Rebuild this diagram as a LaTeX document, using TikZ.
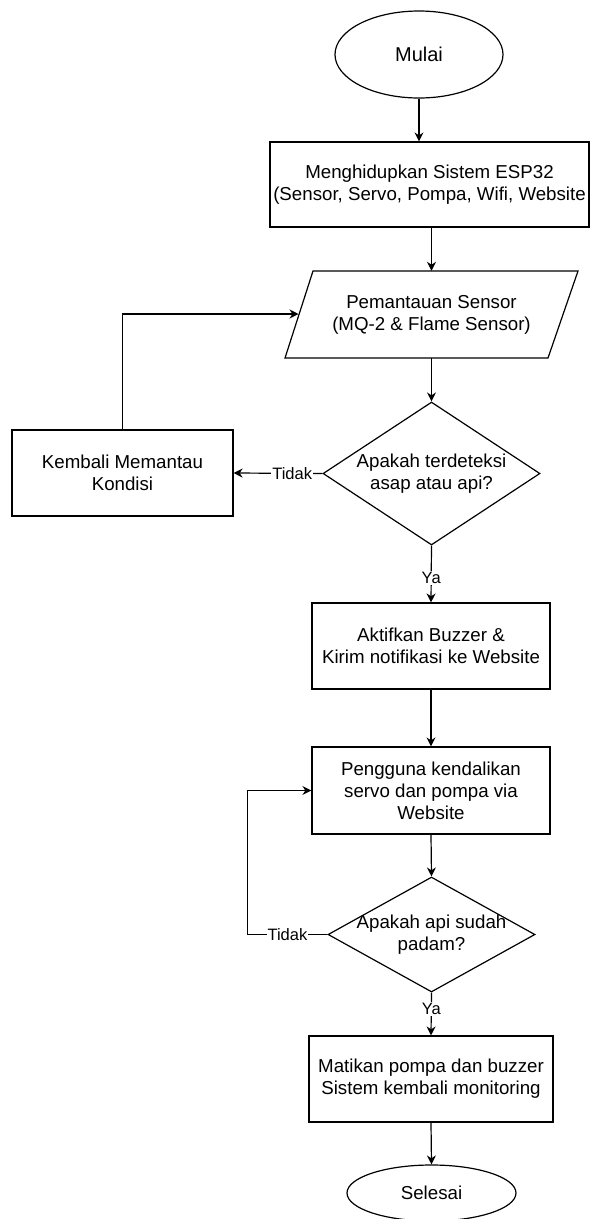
\documentclass[tikz,border=0pt]{standalone}
\usepackage{fontspec}
\setmainfont{Liberation Sans}
\usetikzlibrary{shapes.geometric,arrows.meta}
\tikzset{
  ln/.style={draw=black, line width=1.2pt},
  arr/.style={ln, -{Stealth[length=9pt,width=9pt]}},
  txt/.style={font=\fontsize{18.7}{22}\selectfont, align=center, text=black},
  procbox/.style={ln, txt, rectangle, inner sep=0pt},
  term/.style={ln, txt, ellipse, inner sep=0pt},
  decide/.style={ln, txt, diamond, inner ysep=0pt},
  lbl/.style={font=\fontsize{16.5}{18}\selectfont, fill=white, inner sep=1pt, text=black}
}
\begin{document}
\begin{tikzpicture}[x=1pt,y=-1pt]
\useasboundingbox (0,0) rectangle (591,1219);
\clip (0,0) rectangle (591,1219);

\node[term, minimum width=168, minimum height=87, font=\fontsize{20}{24}\selectfont] (mulai) at (419,54.5) {Mulai};
\node[procbox, minimum width=319, minimum height=85] (esp) at (429.5,184.5) {Menghidupkan Sistem ESP32\\(Sensor, Servo, Pompa, Wifi, Website};

\node[txt, minimum width=250, minimum height=87, inner sep=0pt] (para) at (431.5,314.5) {Pemantauan Sensor\\(MQ-2 \& Flame Sensor)};
\draw[ln] (313,271) -- (578,271) -- (548,358) -- (285,358) -- cycle;
\coordinate (paraIn) at (298.5,314);

\node[decide, minimum width=217, minimum height=143, shape aspect=1.52, inner xsep=0pt] (d1) at (431.5,473.5) {Apakah terdeteksi\\asap atau api?};
\node[procbox, minimum width=221, minimum height=86] (kembali) at (122.5,473) {Kembali Memantau\\Kondisi};

\node[procbox, minimum width=238, minimum height=86] (aktif) at (431,646) {Aktifkan Buzzer \&\\Kirim notifikasi ke Website};
\node[procbox, minimum width=238, minimum height=87] (pengguna) at (431,790.5) {Pengguna kendalikan\\servo dan pompa via\\Website};

\node[decide, minimum width=207, minimum height=115, shape aspect=1.8, inner xsep=-18pt] (d2) at (431.5,934.5) {Apakah api sudah\\padam?};

\node[procbox, minimum width=244, minimum height=86] (matikan) at (431,1079) {Matikan pompa dan buzzer\\Sistem kembali monitoring};
\node[term, minimum width=169, minimum height=56] (selesai) at (431.5,1193) {Selesai};

\draw[arr] (mulai.south) -- (mulai.south |- esp.north);
\draw[arr] (para.north |- esp.south) -- (para.north);
\draw[arr] (para.south) -- (d1.north);
\draw[arr] (d1.west) -- node[lbl, pos=0.34] {Tidak} (kembali.east);
\draw[arr] (kembali.north) |- (paraIn);
\draw[arr] (d1.south) -- node[lbl, pos=0.57] {Ya} (aktif.north);
\draw[arr] (aktif.south) -- (pengguna.north);
\draw[arr] (pengguna.south) -- (d2.north);
\draw[arr] (d2.west) -- node[lbl, pos=0.5] {Tidak} ++(-80,0) |- (pengguna.west);
\draw[arr] (d2.south) -- node[lbl, pos=0.38] {Ya} (matikan.north);
\draw[arr] (matikan.south) -- (selesai.north);
\end{tikzpicture}
\end{document}
